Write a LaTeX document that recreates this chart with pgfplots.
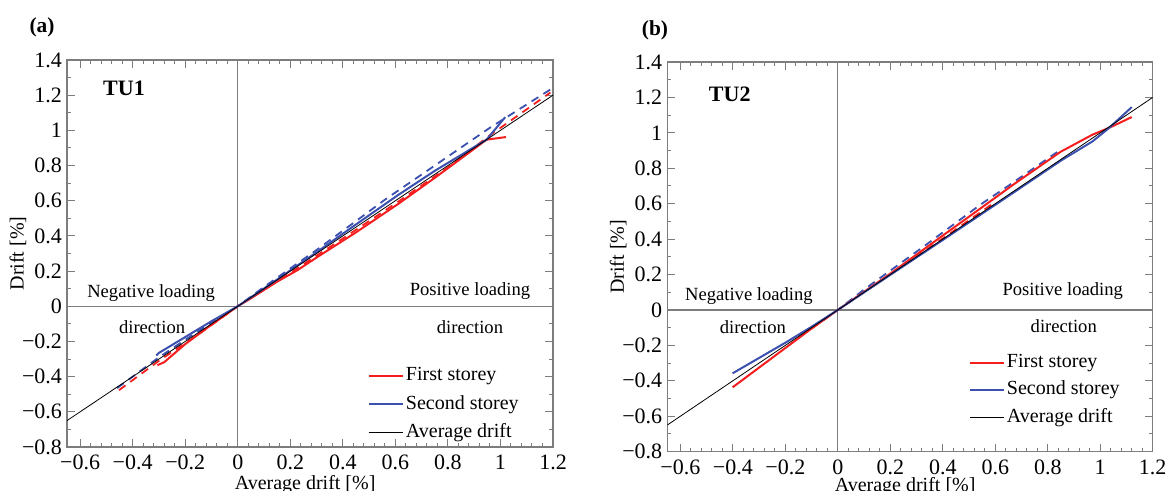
\documentclass[border=0pt]{standalone}
\usepackage{fontspec}
\setmainfont{Liberation Serif}
\usepackage{pgfplots}
\pgfplotsset{compat=1.18}
\definecolor{myred}{RGB}{245,30,30}
\definecolor{myblue}{RGB}{60,80,175}
\definecolor{framegray}{RGB}{125,125,125}

\pgfplotsset{
 mystyle/.style={
  scale only axis,
  xmin=-0.65, xmax=1.2, ymin=-0.8, ymax=1.4,
  axis line style={framegray, line width=0.6pt},
  every tick/.style={framegray, line width=0.5pt},
  major tick length=4pt, minor tick length=2pt,
  xtick={-0.6,-0.4,-0.2,0,0.2,0.4,0.6,0.8,1,1.2},
  xticklabels={{−0.6},{−0.4},{−0.2},{0},{0.2},{0.4},{0.6},{0.8},{1},{1.2}},
  ytick={-0.8,-0.6,-0.4,-0.2,0,0.2,0.4,0.6,0.8,1,1.2,1.4},
  yticklabels={{−0.8},{−0.6},{−0.4},{−0.2},{0},{0.2},{0.4},{0.6},{0.8},{1},{1.2},{1.4}},
  minor x tick num=4, minor y tick num=1,
  tick label style={font=\fontsize{11}{13}\selectfont},
  xticklabel style={yshift=-0.5pt},
  yticklabel style={xshift=1pt},
  label style={font=\fontsize{10}{12}\selectfont},
  xlabel={Average drift [\%]},
  ylabel={Drift [\%]},
  legend image code/.code={\draw[##1] (0pt,0pt) -- (17pt,0pt);},
  legend cell align=left,
  legend style={draw=none, fill=none, inner sep=0pt, row sep=3.2pt,
    nodes={inner sep=1pt, text height=7pt, text depth=2pt, font=\fontsize{10}{12}\selectfont}},
 },
 redl/.style={myred, line width=1pt},
 bluel/.style={myblue, line width=1pt},
 redd/.style={myred, line width=0.9pt, dash pattern=on 4pt off 3pt},
 blued/.style={myblue, line width=0.9pt, dash pattern=on 4pt off 3pt},
 avgl/.style={black, line width=0.4pt},
}

\begin{document}
\begin{tikzpicture}
\useasboundingbox (0,0) rectangle (583.5pt,245.5pt);
\node[font=\bfseries\fontsize{10.7}{12}\selectfont] at (21pt,232pt) {(a)};
\node[font=\bfseries\fontsize{10.7}{12}\selectfont] at (327.5pt,230.5pt) {(b)};

% ---------------- Panel (a) ----------------
\begin{axis}[mystyle, at={(33.5pt,22pt)}, anchor=south west, width=243pt, height=193.5pt,
  xlabel style={at={(axis description cs:0.49,-0.097)}, anchor=center},
  ylabel style={at={(axis description cs:-0.101,0.5)}, anchor=center},
  legend style={at={(axis cs:0.494,-0.557)}, anchor=west}]
\draw[framegray, line width=0.6pt] (axis cs:0,-0.8) -- (axis cs:0,1.4);
\draw[framegray, line width=0.6pt] (axis cs:-0.65,0) -- (axis cs:1.2,0);
\addplot[redd, forget plot] coordinates {(-0.452,-0.477) (-0.3,-0.31) (-0.15,-0.16) (0,0) (0.2,0.19) (0.4,0.385) (0.609,0.593) (0.8,0.79) (0.96,0.972) (1.19,1.215)};
\addplot[blued, forget plot] coordinates {(-0.459,-0.465) (-0.3,-0.29) (-0.1,-0.092) (0,0) (0.1,0.11) (0.2,0.215) (0.3,0.32) (0.437,0.47) (0.566,0.612) (0.75,0.8) (0.96,1.015) (1.19,1.232)};
\addplot[redl] coordinates {(-0.306,-0.335) (-0.28,-0.318) (-0.2,-0.215) (-0.1,-0.105) (0,0) (0.05,0.045) (0.15,0.14) (0.227,0.205) (0.303,0.28) (0.45,0.42) (0.609,0.58) (0.75,0.73) (0.85,0.84) (0.947,0.947) (1.021,0.962)};
\addlegendentry{First storey}
\addplot[bluel] coordinates {(-0.31,-0.28) (-0.3,-0.265) (-0.2,-0.175) (-0.1,-0.085) (0,0) (0.15,0.152) (0.303,0.31) (0.45,0.465) (0.609,0.631) (0.75,0.77) (0.85,0.86) (0.947,0.947) (1.018,1.075)};
\addlegendentry{Second storey}
\addplot[avgl] coordinates {(-0.65,-0.65) (1.2,1.2)};
\addlegendentry{Average drift}
\node[font=\fontsize{9.3}{11}\selectfont] at (axis cs:-0.33,0.074) {Negative loading};
\node[font=\fontsize{9.3}{11}\selectfont] at (axis cs:-0.326,-0.119) {direction};
\node[font=\fontsize{9.3}{11}\selectfont] at (axis cs:0.884,0.085) {Positive loading};
\node[font=\fontsize{9.3}{11}\selectfont] at (axis cs:0.884,-0.119) {direction};
\node[font=\bfseries\fontsize{11}{13}\selectfont] at (axis cs:-0.433,1.239) {TU1};
\end{axis}

% ---------------- Panel (b) ----------------
\begin{axis}[mystyle, at={(333.65pt,19.7pt)}, anchor=south west, width=242.7pt, height=194.8pt,
  xlabel style={at={(axis description cs:0.49,-0.09)}, anchor=center},
  ylabel style={at={(axis description cs:-0.101,0.5)}, anchor=center},
  legend style={at={(axis cs:0.498,-0.452)}, anchor=west, row sep=2.7pt}]
\draw[framegray, line width=0.6pt] (axis cs:0,-0.8) -- (axis cs:0,1.4);
\draw[framegray, line width=0.6pt] (axis cs:-0.65,0) -- (axis cs:1.2,0);
\addplot[redd, forget plot] coordinates {(-0.1,-0.105) (0,0) (0.3,0.3) (0.6,0.61)};
\addplot[blued, forget plot] coordinates {(-0.1,-0.1) (0,0) (0.1,0.115) (0.327,0.358) (0.544,0.595) (0.646,0.697) (0.852,0.908)};
\addplot[redl] coordinates {(-0.401,-0.437) (-0.2,-0.215) (-0.1,-0.105) (0,0) (0.2,0.205) (0.4,0.42) (0.55,0.58) (0.671,0.71) (0.849,0.893) (0.971,0.99) (1.034,1.028) (1.12,1.089)};
\addlegendentry{First storey}
\addplot[bluel] coordinates {(-0.401,-0.358) (-0.2,-0.185) (-0.1,-0.095) (0,0) (0.2,0.198) (0.4,0.395) (0.671,0.664) (0.849,0.842) (0.971,0.952) (1.034,1.028) (1.12,1.145)};
\addlegendentry{Second storey}
\addplot[avgl] coordinates {(-0.65,-0.65) (1.2,1.2)};
\addlegendentry{Average drift}
\node[font=\fontsize{9.3}{11}\selectfont] at (axis cs:-0.339,0.079) {Negative loading};
\node[font=\fontsize{9.3}{11}\selectfont] at (axis cs:-0.324,-0.10) {direction};
\node[font=\fontsize{9.3}{11}\selectfont] at (axis cs:0.857,0.107) {Positive loading};
\node[font=\fontsize{9.3}{11}\selectfont] at (axis cs:0.861,-0.09) {direction};
\node[font=\bfseries\fontsize{11}{13}\selectfont] at (axis cs:-0.412,1.215) {TU2};
\end{axis}
\end{tikzpicture}
\end{document}
